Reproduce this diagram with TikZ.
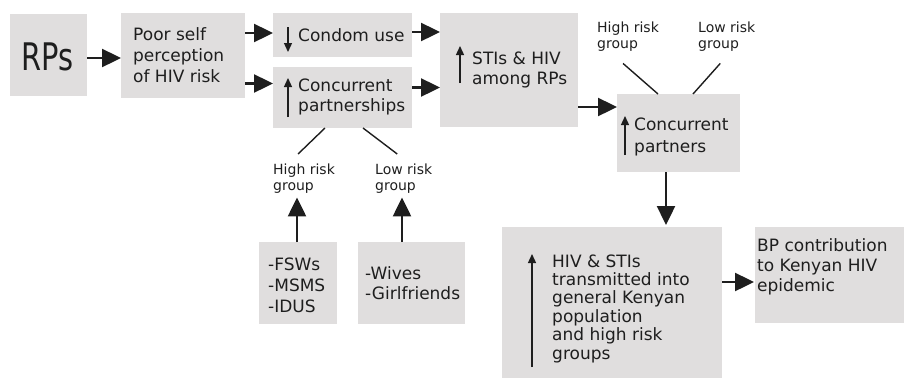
\documentclass[tikz,border=0pt]{standalone}
\usepackage{fontspec}
\setmainfont{DejaVu Sans}
\usetikzlibrary{arrows.meta,calc}
\definecolor{boxgray}{HTML}{E0DEDE}
\definecolor{ink}{HTML}{1E1E1E}
\tikzset{
  box/.style={fill=boxgray,draw=none,inner sep=0pt,outer sep=0pt},
  txt/.style={anchor=west,inner sep=0pt,align=left,text=ink,font=\fontsize{17}{21}\selectfont},
  lbl/.style={anchor=north west,inner sep=0pt,align=left,text=ink,font=\fontsize{14}{15.5}\selectfont},
  arr/.style={draw=ink,line width=2.4pt,-{Triangle[length=19pt,width=18pt]}},
  thinarr/.style={draw=ink,line width=1.3pt,-{Triangle[length=9pt,width=8pt]}},
  link/.style={draw=ink,line width=1.4pt}
}
\begin{document}
\begin{tikzpicture}[x=1pt,y=-1pt]
\useasboundingbox (0,0) rectangle (904,378);
% boxes
\node[box,anchor=north west,minimum width=77pt,minimum height=82pt] (rps) at (10,14) {};
\node[box,anchor=north west,minimum width=124pt,minimum height=85pt] (poor) at (121,13) {};
\node[box,anchor=north west,minimum width=139pt,minimum height=44pt] (condom) at (273,13) {};
\node[box,anchor=north west,minimum width=139pt,minimum height=61pt] (conc) at (273,67) {};
\node[box,anchor=north west,minimum width=138pt,minimum height=114pt] (stis) at (440,13) {};
\node[box,anchor=north west,minimum width=123pt,minimum height=78pt] (cp) at (617,94) {};
\node[box,anchor=north west,minimum width=220pt,minimum height=151pt] (hiv) at (502,227) {};
\node[box,anchor=north west,minimum width=149pt,minimum height=96pt] (bp) at (755,227) {};
\node[box,anchor=north west,minimum width=78pt,minimum height=82pt] (fsw) at (259,242) {};
\node[box,anchor=north west,minimum width=107pt,minimum height=82pt] (wives) at (358,242) {};
% texts
\node[txt] (trps) at (21,56.5) {\scalebox{0.76}[1]{\fontsize{38}{40}\selectfont RPs}};
\node[txt] (tpoor) at (133,55) {Poor self\\perception\\of HIV risk};
\node[txt] (tcondom) at (298,35) {Condom use};
\node[txt,font=\fontsize{17}{19.5}\selectfont] (tconc) at (298,97) {Concurrent\\partnerships};
\node[txt,font=\fontsize{17}{20}\selectfont] (tstis) at (472,70) {STIs \& HIV\\among RPs};
\node[txt,font=\fontsize{17}{22}\selectfont] (tcp) at (634,137) {Concurrent\\partners};
\node[txt,font=\fontsize{17}{18.4}\selectfont] (thiv) at (552,308.5) {HIV \& STIs\\transmitted into\\general Kenyan\\population\\and high risk\\groups};
\node[txt,font=\fontsize{17}{20}\selectfont] (tbp) at (757,267) {BP contribution\\to Kenyan HIV\\epidemic};
\node[txt,font=\fontsize{17}{21}\selectfont] (tfsw) at (268,285.5) {-FSWs\\-MSMS\\-IDUS};
\node[txt,font=\fontsize{17}{20}\selectfont] (twives) at (365,283) {-Wives\\-Girlfriends};
% labels
\node[lbl] (hr1) at (273,164) {High risk\\group};
\node[lbl] (lr1) at (375,164) {Low risk\\group};
\node[lbl] (hr2) at (597,22) {High risk\\group};
\node[lbl] (lr2) at (698,22) {Low risk\\group};
% main arrows
\draw[arr] ([yshift=-3pt]rps.east) -- ([yshift=-3pt]rps.east -| poor.west);
\draw[arr] ([yshift=2pt]condom.west -| poor.east) -- ([yshift=2pt]condom.west);
\draw[arr] ([yshift=14pt]conc.west -| poor.east) -- ([yshift=14pt]conc.west);
\draw[arr] ([yshift=3pt]condom.east) -- ([yshift=3pt]condom.east -| stis.west);
\draw[arr] ([yshift=10pt]conc.east) -- ([yshift=10pt]conc.east -| stis.west);
\draw[arr] ([yshift=26pt]cp.west -| stis.east) -- ([yshift=26pt]cp.west);
\draw[arr] ([xshift=49pt]cp.south west) -- ([xshift=49pt,yshift=2pt]cp.south west |- hiv.north);
\draw[arr] ([yshift=-7pt]bp.west -| hiv.east) -- ([yshift=-7pt,xshift=-1pt]bp.west);
\draw[arr] ([xshift=38pt]fsw.north west) -- ([xshift=38pt,yshift=-4pt]fsw.north west |- hr1.south);
\draw[arr] ([xshift=44pt]wives.north west) -- ([xshift=44pt,yshift=-4pt]wives.north west |- lr1.south);
% links to risk groups
\draw[link] ([xshift=52pt]conc.south west) -- ([xshift=-6pt,yshift=10pt]hr1.north);
\draw[link] ([xshift=90pt]conc.south west) -- ([xshift=-6.5pt,yshift=10pt]lr1.north);
\draw[link] ([xshift=-5pt,yshift=-12pt]hr2.south) -- ([xshift=41pt]cp.north west);
\draw[link] ([xshift=-6.5pt,yshift=-12pt]lr2.south) -- ([xshift=76pt]cp.north west);
% small arrows inside text
\draw[thinarr] ([xshift=15pt,yshift=-14pt]condom.north west) -- ([xshift=15pt,yshift=-39pt]condom.north west);
\draw[thinarr] ([xshift=15pt,yshift=11pt]conc.south west) -- ([xshift=15pt,yshift=50pt]conc.south west);
\draw[thinarr] ([xshift=20pt,yshift=-70pt]stis.north west) -- ([xshift=20pt,yshift=-33pt]stis.north west);
\draw[thinarr] ([xshift=8pt,yshift=17pt]cp.south west) -- ([xshift=8pt,yshift=56pt]cp.south west);
\draw[thinarr] ([xshift=30pt,yshift=11pt]hiv.south west) -- ([xshift=30pt,yshift=124pt]hiv.south west);
\end{tikzpicture}
\end{document}
